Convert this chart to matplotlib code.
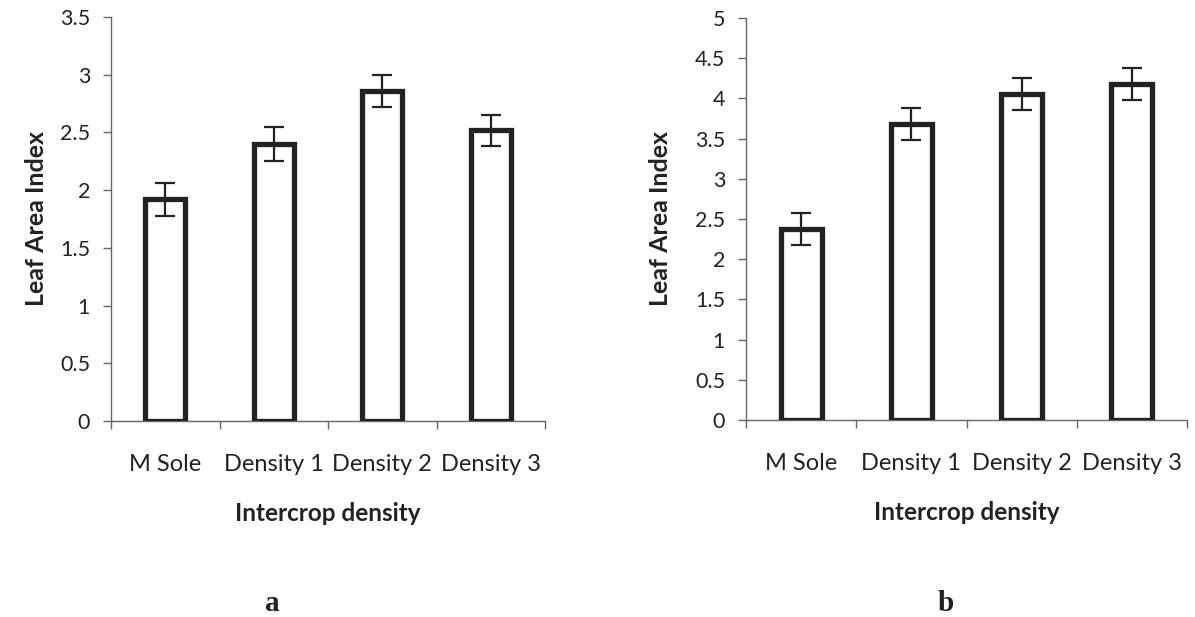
import matplotlib
matplotlib.use("Agg")
import matplotlib.pyplot as plt
from matplotlib.ticker import FixedLocator

categories = ["M Sole", "Density 1", "Density 2", "Density 3"]
lai_a = [1.92, 2.40, 2.86, 2.52]
err_a = [0.14, 0.145, 0.14, 0.135]
lai_b = [2.38, 3.68, 4.05, 4.18]
err_b = [0.20, 0.20, 0.20, 0.20]
yticks_a = [0, 0.5, 1, 1.5, 2, 2.5, 3, 3.5]
yticks_b = [0, 0.5, 1, 1.5, 2, 2.5, 3, 3.5, 4, 4.5, 5]
panel_labels = ["a", "b"]

plt.rcParams['font.family'] = ['Lato', 'DejaVu Sans']
W, H = 1195, 617
fig = plt.figure(figsize=(W / 100, H / 100), dpi=100)

def fmt(v):
    return f"{v:g}"

def panel(rect, vals, errs, yticks, ylab_x, letter, letter_x):
    ax = fig.add_axes([rect[0] / W, 1 - rect[3] / H, (rect[2] - rect[0]) / W, (rect[3] - rect[1]) / H])
    x = list(range(len(categories)))
    ax.bar(x, vals, width=0.37, facecolor="white", edgecolor="#222222", linewidth=3.8, zorder=3)
    ax.errorbar(x, vals, yerr=errs, fmt="none", ecolor="#222222", elinewidth=1.6,
                capsize=7, capthick=1.6, zorder=4)
    ax.set_xlim(-0.5, len(categories) - 0.5)
    ax.set_ylim(yticks[0], yticks[-1])
    ax.set_yticks(yticks)
    ax.set_yticklabels([fmt(v) for v in yticks], fontsize=15.5, color="#222222")
    ax.set_xticks(x)
    ax.set_xticklabels(categories, fontsize=17, color="#222222")
    ax.xaxis.set_minor_locator(FixedLocator([i - 0.5 for i in range(len(categories) + 1)]))
    ax.tick_params(axis="x", which="major", length=0, pad=24)
    ax.tick_params(axis="x", which="minor", length=6, width=1, color="#666666", direction="out")
    ax.tick_params(axis="y", length=6, width=1, color="#666666", direction="out", pad=9)
    for s in ("top", "right"):
        ax.spines[s].set_visible(False)
    for s in ("left", "bottom"):
        ax.spines[s].set_color("#666666")
        ax.spines[s].set_linewidth(1.0)
    ax.set_xlabel("Intercrop density", fontsize=17.5, fontweight="bold", color="#222222", labelpad=19)
    ax.set_ylabel("Leaf Area Index", fontsize=18, fontweight="bold", color="#222222")
    ax.yaxis.set_label_coords((ylab_x - rect[0]) / (rect[2] - rect[0]), 0.5)
    fig.text(letter_x / W, 1 - 611 / H, letter, fontsize=21, fontweight="bold",
             family=["Liberation Serif", "DejaVu Serif"], ha="center", va="baseline", color="#222222")
    return ax

panel((111, 17, 545, 421), lai_a, err_a, yticks_a, 48, panel_labels[0], 272)
panel((746, 18, 1187, 420), lai_b, err_b, yticks_b, 672, panel_labels[1], 946)

fig.savefig("out.png", dpi=100, facecolor="white")
